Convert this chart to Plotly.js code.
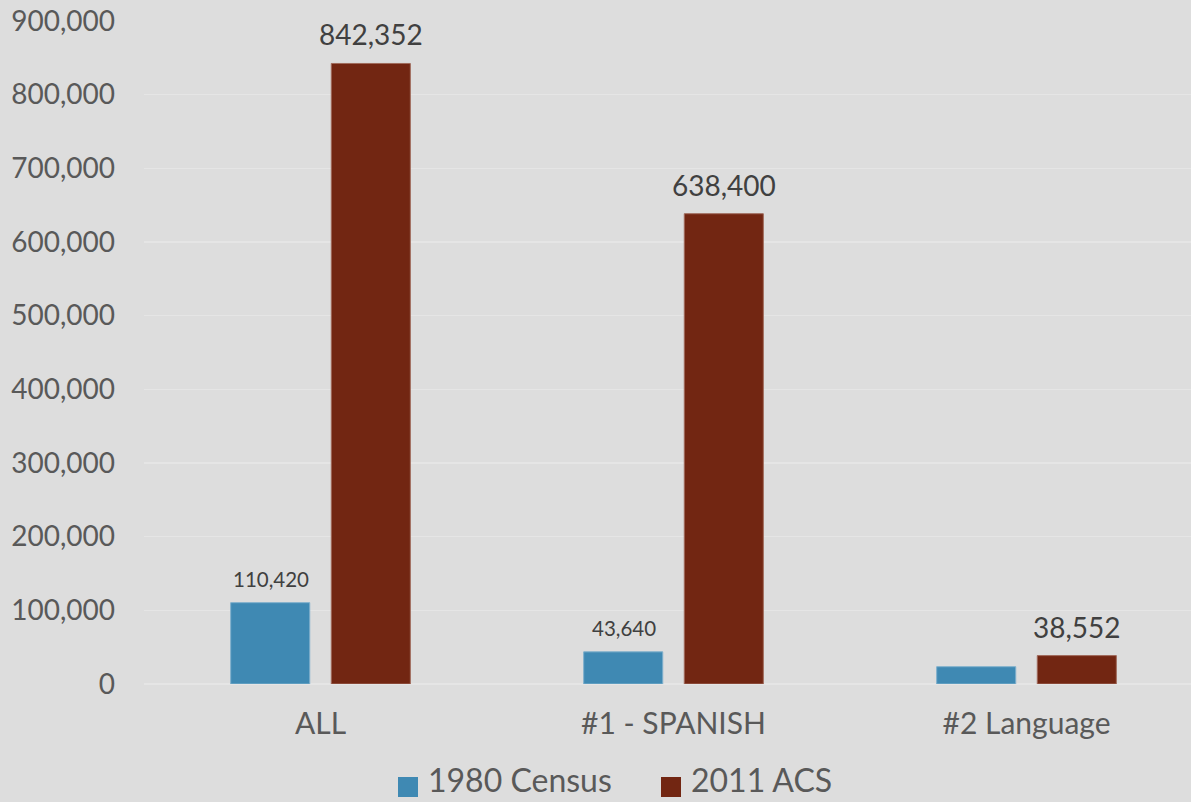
<!DOCTYPE html>
<html>
<head>
<meta charset="utf-8">
<script src="https://cdn.plot.ly/plotly-3.0.1.min.js"></script>
<style>html,body{margin:0;padding:0;background:#dddddd;}#chart{width:1191px;height:802px;}</style>
</head>
<body>
<div id="chart"></div>
<script>
const categories = ["ALL", "#1 - SPANISH", "#2 Language"];
const census1980 = [110420, 43640, 23500];
const acs2011 = [842352, 638400, 38552];
const census1980Labels = ["110,420", "43,640", ""];
const acs2011Labels = ["842,352", "638,400", "38,552"];
const seriesNames = ["1980 Census", "2011 ACS"];
const seriesColors = ["#3f89b3", "#722612"];

const FONT = "Lato, 'Open Sans', sans-serif";
const traces = [
  {type: "bar", name: seriesNames[0], x: categories, y: census1980, showlegend: false,
   marker: {color: seriesColors[0], line: {color: "#7fb0cc", width: 1}}, hoverinfo: "skip"},
  {type: "bar", name: seriesNames[1], x: categories, y: acs2011, showlegend: false,
   marker: {color: seriesColors[1], line: {color: "#a06a5c", width: 1}}, hoverinfo: "skip"}
];

const annotations = [];
categories.forEach((c, i) => {
  if (census1980Labels[i]) annotations.push({x: c, y: census1980[i], xref: "x", yref: "y",
    text: census1980Labels[i], showarrow: false, yanchor: "bottom", xshift: -50, yshift: 10,
    font: {family: FONT, size: 20.5, color: "#404040"}});
  if (acs2011Labels[i]) annotations.push({x: c, y: acs2011[i], xref: "x", yref: "y",
    text: acs2011Labels[i], showarrow: false, yanchor: "bottom", xshift: 50, yshift: 10,
    font: {family: FONT, size: 28, color: "#404040"}});
});

// manual legend (paper coordinates)
const W = 1191 - 144, H = 802 - 21 - 118;
const px = x => (x - 144) / W;
const py = y => (802 - 118 - y) / H;
const legendStarts = [398, 661];
const shapes = [];
seriesNames.forEach((n, i) => {
  const x0 = legendStarts[i];
  shapes.push({type: "rect", xref: "paper", yref: "paper", x0: px(x0), x1: px(x0 + 20),
    y0: py(797), y1: py(777), fillcolor: seriesColors[i], line: {width: 0}});
  annotations.push({xref: "paper", yref: "paper", x: px(x0 + 29), y: py(800), xanchor: "left",
    yanchor: "bottom", text: n, showarrow: false, borderpad: 0,
    font: {family: FONT, size: 32, color: "#595959"}});
});

const layout = {
  width: 1191, height: 802,
  paper_bgcolor: "#dddddd", plot_bgcolor: "#dddddd",
  margin: {l: 144, r: 0, t: 21, b: 118},
  barmode: "group", bargap: 0.43, bargroupgap: 0.214,
  showlegend: false,
  xaxis: {range: [-0.5, 2.466], showgrid: false, zeroline: false, showline: false, ticks: "",
    ticklabelstandoff: 19,
    tickfont: {family: FONT, size: 30, color: "#595959"}, fixedrange: true},
  yaxis: {range: [0, 900000], dtick: 100000, tickformat: ",d", showgrid: true, gridcolor: "#e5e5e5",
    gridwidth: 1.5, zeroline: true, zerolinecolor: "#e5e5e5", zerolinewidth: 1.5, showline: false,
    ticks: "", ticklabelstandoff: 28,
    tickfont: {family: FONT, size: 28, color: "#595959"}, fixedrange: true},
  shapes: shapes,
  annotations: annotations
};

Plotly.newPlot("chart", traces, layout, {displayModeBar: false, staticPlot: true});
</script>
</body>
</html>
